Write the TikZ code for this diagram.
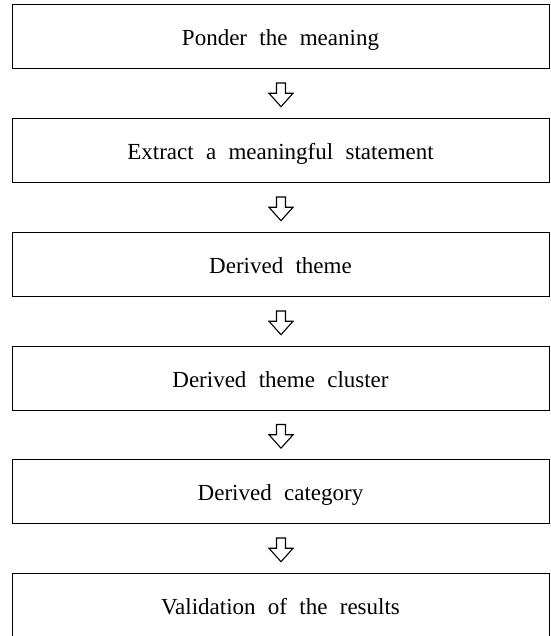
\documentclass[tikz,border=0pt]{standalone}
\usepackage{fontspec}
\setmainfont{Liberation Serif}
\usetikzlibrary{calc}
\newcommand\myboxfont{\fontsize{23}{27}\selectfont\spaceskip 12.3pt\relax}
\tikzset{
  stepbox/.style={draw=black, line width=1pt, minimum width=537pt, minimum height=64pt,
    inner sep=0pt, text height=18pt, text depth=0pt, font=\myboxfont},
  hollowarrow/.pic={\draw[line width=1.1pt, line join=miter]
    (-4.5,12) -- (4.5,12) -- (4.5,1.7) -- (12,1.7) -- (0,-11.7) -- (-12,1.7) -- (-4.5,1.7) -- cycle;}
}
\begin{document}
\begin{tikzpicture}[x=1pt,y=1pt]
\useasboundingbox (0,0) rectangle (550,636);
\clip (0,0) rectangle (550,636);
\node[stepbox] (b1) at (280.5,599) {Ponder the meaning};
\node[stepbox] (b2) at (280.5,485) {Extract a meaningful statement};
\node[stepbox] (b3) at (280.5,371) {Derived theme};
\node[stepbox] (b4) at (280.5,257) {Derived theme cluster};
\node[stepbox] (b5) at (280.5,144) {Derived category};
\node[stepbox] (b6) at (280.5,30) {Validation of the results};
\foreach \a/\b in {b1/b2,b2/b3,b3/b4,b4/b5,b5/b6}
  \pic at ($(\a.south)!0.5!(\b.north)+(0.5,-1)$) {hollowarrow};
\end{tikzpicture}
\end{document}
